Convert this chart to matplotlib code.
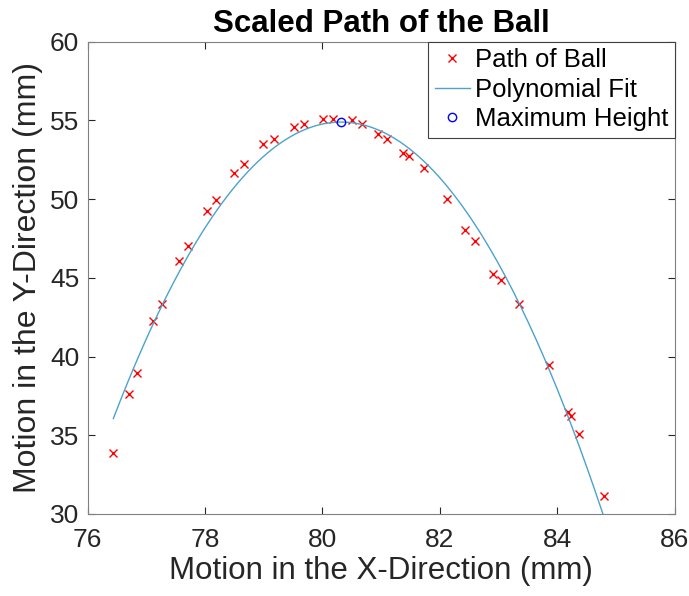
import numpy as np
import matplotlib
matplotlib.use('Agg')
import matplotlib.pyplot as plt

# ball positions (mm)
x_pos = [76.44, 76.70, 76.84, 77.12, 77.27, 77.56, 77.71, 78.03, 78.19, 78.49,
         78.66, 78.99, 79.18, 79.52, 79.69, 80.02, 80.19, 80.50, 80.67, 80.95,
         81.11, 81.37, 81.48, 81.73, 82.12, 82.43, 82.60, 82.90, 83.05, 83.35,
         83.86, 84.18, 84.24, 84.38, 84.80]
y_pos = [33.87, 37.62, 38.98, 42.24, 43.37, 46.10, 47.00, 49.24, 49.96, 51.65,
         52.22, 53.50, 53.83, 54.58, 54.77, 55.09, 55.09, 55.00, 54.75, 54.15,
         53.82, 52.95, 52.76, 52.00, 49.98, 48.05, 47.31, 45.25, 44.87, 43.32,
         39.47, 36.46, 36.25, 35.10, 31.14]

plt.rcParams['font.family'] = ['Liberation Sans', 'DejaVu Sans']

# quadratic fit, vertex = max height
p = np.polyfit(x_pos, y_pos, 2)
xf = np.linspace(min(x_pos), max(x_pos), 200)
yf = np.polyval(p, xf)
x_max = -p[1] / (2 * p[0])
y_max = np.polyval(p, x_max)

fig = plt.figure(figsize=(6.89, 5.96), dpi=100)
ax = fig.add_axes([0.127, 0.1376, 0.852, 0.7924])

ax.plot(x_pos, y_pos, 'x', color='red', markersize=5.5, markeredgewidth=1.0, label='Path of Ball')
ax.plot(xf, yf, '-', color='#4aa3cc', linewidth=1.0, label='Polynomial Fit')
ax.plot(x_max, y_max, 'o', color='blue', markerfacecolor='none', markersize=6,
        markeredgewidth=1.0, label='Maximum Height')

ax.set_xlim(76, 86)
ax.set_ylim(30, 60)
ax.set_xticks([76, 78, 80, 82, 84, 86])
ax.set_yticks([30, 35, 40, 45, 50, 55, 60])
ax.tick_params(direction='in', top=True, right=True, labelsize=19, colors='#262626',
               length=5, width=0.8)
ax.tick_params(axis='x', pad=10)
ax.tick_params(axis='y', pad=6)
for s in ax.spines.values():
    s.set_color('#808080')
    s.set_linewidth(0.8)

ax.set_xlabel('Motion in the X-Direction (mm)', fontsize=22.5, color='#262626', labelpad=3)
ax.set_ylabel('Motion in the Y-Direction (mm)', fontsize=23, color='#262626', labelpad=5)
ax.set_title('Scaled Path of the Ball', fontsize=22.5, fontweight='bold', pad=7)

leg = ax.legend(loc='upper right', fontsize=18.5, borderaxespad=0, fancybox=False,
                framealpha=1, edgecolor='#404040', handlelength=1.35, handletextpad=0.2,
                labelspacing=0.22, borderpad=0.25)
leg.get_frame().set_linewidth(0.8)

fig.savefig('out.png', dpi=100)
